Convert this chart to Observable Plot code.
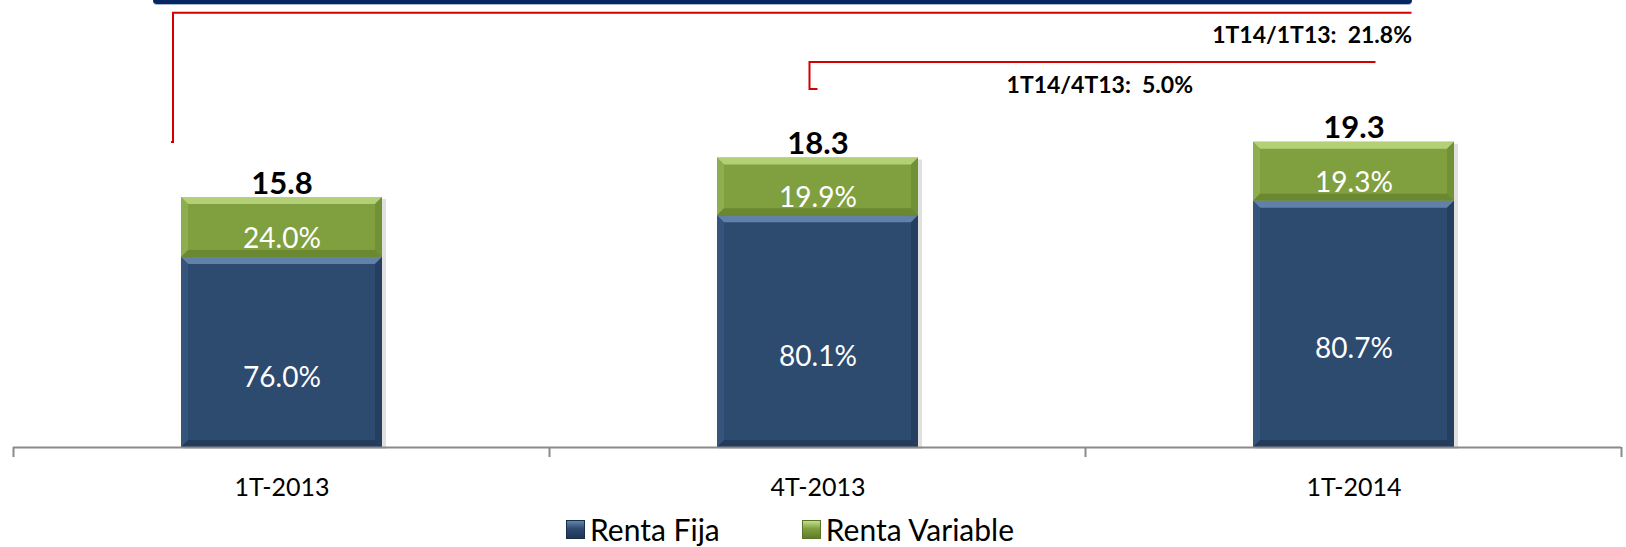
<!DOCTYPE html>
<html><head><meta charset="utf-8">
<script src="https://cdn.jsdelivr.net/npm/d3@7"></script>
<script src="https://cdn.jsdelivr.net/npm/@observablehq/plot@0.6"></script>
<style>
body{margin:0;background:#fff;font-family:Lato,"Open Sans",sans-serif;}
#wrap{position:relative;width:1626px;height:547px;overflow:hidden;background:#fff}
#hdr{position:absolute;top:0;left:153px;width:1259px;height:4px;background:#062661;border-radius:0 0 8px 8px;box-shadow:0 1px 0 #a9b6cf}
#legend{height:42px;display:flex;align-items:center;padding-left:566px;padding-top:6px;box-sizing:border-box;font-size:30px;color:#000;line-height:1}
.item{display:flex;align-items:center}
.sw{width:19px;height:19px;margin-right:5px;display:inline-block;box-sizing:border-box}
</style></head><body>
<div id="wrap"><div id="chart"></div><div id="legend"></div><div id="hdr"></div></div>
<script>
// ---- data ----
const categories = ["1T-2013", "4T-2013", "1T-2014"];
const totals = [15.8, 18.3, 19.3];
const rentaFijaPct = [76.0, 80.1, 80.7];
const rentaVariablePct = [24.0, 19.9, 19.3];
const seriesNames = ["Renta Fija", "Renta Variable"];
const seriesColors = ["#2d4a6f", "#80a040"];
const growthLabels = ["1T14/1T13:  21.8%", "1T14/4T13:  5.0%"];

// ---- derived table ----
const segments = [];
categories.forEach((c, i) => {
  const fija = totals[i] * rentaFijaPct[i] / 100;
  const vari = totals[i] * rentaVariablePct[i] / 100;
  segments.push({cat: c, series: seriesNames[0], pct: rentaFijaPct[i], y1: 0, y2: fija});
  segments.push({cat: c, series: seriesNames[1], pct: rentaVariablePct[i], y1: fija, y2: fija + vari});
});
const totalRows = categories.map((c, i) => ({cat: c, total: totals[i]}));

const RED = "#d40000";

function shadows(index, {x, y}) {
  const g = d3.create("svg:g");
  const bw = x.bandwidth();
  for (const d of totalRows) {
    g.append("rect").attr("x", x(d.cat) + 2).attr("y", y(d.total) + 2)
      .attr("width", bw + 2).attr("height", y(0) - y(d.total))
      .attr("fill", "#000").attr("opacity", 0.12);
  }
  return g.node();
}

function bevels(index, {x, y}) {
  const g = d3.create("svg:g");
  const bw = x.bandwidth();
  const b = 7;
  const cfg = {
    "Renta Fija": {top: "#6584ad", left: "#3b5a82", right: "#223b5a", bottom: "#1f3654"},
    "Renta Variable": {top: "#b6d37a", left: "#93b454", right: "#6a8a30", bottom: "#5f7d2a"}
  };
  for (const s of segments) {
    const x0 = x(s.cat), x1 = x0 + bw, yt = y(s.y2), yb = y(s.y1);
    const c = cfg[s.series];
    const poly = (pts, fill, op) => g.append("polygon").attr("points", pts.map(p => p.join(",")).join(" ")).attr("fill", fill).attr("opacity", op);
    poly([[x0, yt], [x1, yt], [x1 - b, yt + b], [x0 + b, yt + b]], c.top, 0.95);
    poly([[x0, yt], [x0 + b, yt + b], [x0 + b, yb - b], [x0, yb]], c.left, 0.7);
    poly([[x1, yt], [x1 - b, yt + b], [x1 - b, yb - b], [x1, yb]], c.right, 0.7);
    poly([[x0, yb], [x0 + b, yb - b], [x1 - b, yb - b], [x1, yb]], c.bottom, 0.7);
  }
  return g.node();
}

function axisTicks(index, {x, y}) {
  const g = d3.create("svg:g");
  const bw = x.bandwidth();
  const step = x(categories[1]) - x(categories[0]);
  const edges = categories.map(c => x(c) - (step - bw) / 2);
  edges.push(x(categories[categories.length - 1]) + bw + (step - bw) / 2);
  const y0 = y(0);
  for (const e of edges) {
    g.append("line").attr("x1", e).attr("x2", e).attr("y1", y0).attr("y2", y0 + 10)
      .attr("stroke", "#8a8a8a").attr("stroke-width", 2);
  }
  return g.node();
}

function brackets(index, {x, y}) {
  const g = d3.create("svg:g").attr("fill", "none").attr("stroke", RED).attr("stroke-width", 2);
  const bw = x.bandwidth();
  // long bracket: 1T-2013 -> 1T-2014
  const lx = x(categories[0]) - 8, lxe = x(categories[2]) + bw / 2 + 58;
  const ly1 = y(19.28), ly2 = y(27.45);
  g.append("path").attr("d", `M${lx - 2},${ly1} H${lx} V${ly2} H${lxe}`);
  // short bracket: 4T-2013 -> 1T-2014
  const sx = x(categories[1]) + bw / 2 - 8, sxe = x(categories[2]) + bw / 2 + 22;
  const sy1 = y(22.63), sy2 = y(24.34);
  g.append("path").attr("d", `M${sx + 8},${sy1} H${sx} V${sy2} H${sxe}`);
  return g.node();
}

const chart = Plot.plot({
  width: 1626,
  height: 505,
  marginTop: 0,
  marginLeft: 13,
  marginRight: 5,
  marginBottom: 58,
  x: {domain: categories, paddingInner: 0.625, paddingOuter: 0.3125, axis: null},
  y: {domain: [0, 28.26], axis: null},
  color: {domain: seriesNames, range: seriesColors},
  style: {fontFamily: "Lato, 'Open Sans', sans-serif", background: "white", overflow: "visible"},
  marks: [
    shadows,
    Plot.rectY(segments, {x: "cat", y1: "y1", y2: "y2", fill: "series"}),
    bevels,
    Plot.ruleY([0], {stroke: "#8a8a8a", strokeWidth: 2}),
    axisTicks,
    Plot.text(segments.filter(d => d.series === seriesNames[0]), {
      x: "cat", y: d => (d.y1 + d.y2) / 2, text: d => d.pct.toFixed(1) + "%",
      fill: "white", fontSize: 28, dy: 25
    }),
    Plot.text(segments.filter(d => d.series === seriesNames[1]), {
      x: "cat", y: d => (d.y1 + d.y2) / 2, text: d => d.pct.toFixed(1) + "%",
      fill: "white", fontSize: 28, dy: 11
    }),
    Plot.text(totalRows, {
      x: "cat", y: "total", text: d => d.total.toFixed(1),
      fontWeight: "bold", fontSize: 31, lineAnchor: "bottom", dy: -4, fill: "black"
    }),
    Plot.text(categories, {
      x: d => d, y: () => 0, text: d => d, fontSize: 25, dy: 40, fill: "black"
    }),
    brackets,
    Plot.text([growthLabels[0]], {
      x: () => categories[2], y: () => 26.04, text: d => d, dx: 58,
      textAnchor: "end", fontWeight: "bold", fontSize: 23, fill: "black"
    }),
    Plot.text([growthLabels[1]], {
      x: () => categories[2], y: () => 22.85, text: d => d, dx: -161,
      textAnchor: "end", fontWeight: "bold", fontSize: 23, fill: "black"
    })
  ]
});
chart.style.whiteSpace = "pre";
chart.style.display = "block";
document.getElementById("chart").appendChild(chart);

// legend
const leg = document.getElementById("legend");
const grads = [
  "linear-gradient(#6584ad, #2d4a6f 45%, #1f3654)",
  "linear-gradient(#c4dd8c, #80a040 45%, #5f7d2a)"
];
seriesNames.forEach((name, i) => {
  const item = document.createElement("div");
  item.className = "item";
  if (i > 0) item.style.marginLeft = "82px";
  const sw = document.createElement("span");
  sw.className = "sw";
  sw.style.background = grads[i];
  sw.style.border = "1px solid " + (i === 0 ? "#1a2d46" : "#5a7526");
  const t = document.createElement("span");
  t.textContent = name;
  item.appendChild(sw);
  item.appendChild(t);
  leg.appendChild(item);
});
</script>
</body></html>
